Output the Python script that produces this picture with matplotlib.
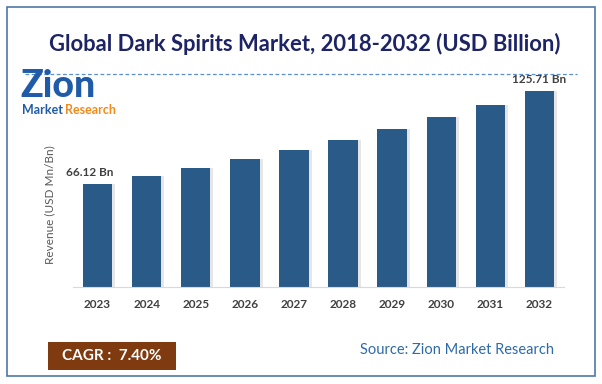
import matplotlib.pyplot as plt
from matplotlib.patches import Rectangle
from matplotlib.lines import Line2D

# Data
years = ["2023", "2024", "2025", "2026", "2027", "2028", "2029", "2030", "2031", "2032"]
revenue = [66.12, 71.0, 76.3, 81.9, 88.0, 94.5, 101.5, 109.0, 117.0, 125.71]
first_label = "66.12 Bn"
last_label = "125.71 Bn"
cagr_text = "CAGR :  7.40%"
source_text = "Source: Zion Market Research"
title_text = "Global Dark Spirits Market, 2018-2032 (USD Billion)"

bar_color = "#2a5a88"
font = "Lato"

fig = plt.figure(figsize=(6.02, 3.84), dpi=100)
W, H = 602, 384

def fx(px):
    return px / W

def fy(py):
    return 1 - py / H

# outer border
fig.patches.append(Rectangle((fx(7), fy(376)), fx(588), (376 - 7) / H, transform=fig.transFigure,
                             fill=False, edgecolor="#4f77a5", linewidth=1.2))

# title and dashed rule
fig.text(fx(305), fy(44), title_text, ha="center", va="center", fontsize=15.8,
         fontweight="bold", color="#1d2466", family=font)
fig.lines.append(Line2D([fx(25), fx(577)], [fy(74), fy(74)], transform=fig.transFigure,
                        color="#5b8fd0", linewidth=0.9, linestyle=(0, (3, 2))))

# logo (text approximation)
fig.text(fx(20), fy(103), "Zion", ha="left", va="bottom", fontsize=27, fontweight="black",
         color="#1f5ba8", family=font)
fig.text(fx(22), fy(110), "Market", ha="left", va="center", fontsize=9, fontweight="bold",
         color="#1f5ba8", family=font)
fig.text(fx(65), fy(110), "Research", ha="left", va="center", fontsize=9, fontweight="bold",
         color="#f08a1c", family=font)

# bars
ax = fig.add_axes([fx(73), fy(287), fx(564 - 73), (287 - 69) / H])
x = list(range(len(years)))
shadow = [i + 0.06 for i in x]
ax.bar(shadow, revenue, width=0.6, color="#c8c8c8", alpha=0.45, zorder=1)
ax.bar(x, revenue, width=0.6, color=bar_color, zorder=2)
ax.set_xlim(-0.5, len(years) - 0.5)
ax.set_ylim(0, 140)
ax.set_xticks(x)
ax.set_xticklabels(years, fontsize=8.5, fontweight="bold", color="#404040", family=font)
ax.tick_params(axis="x", length=0, pad=9)
ax.set_yticks([])
for s in ["top", "right", "left"]:
    ax.spines[s].set_visible(False)
ax.spines["bottom"].set_color("#d9d9d9")
ax.set_ylabel("Revenue (USD Mn/Bn)", fontsize=8.5, color="#595959", family=font)
ax.yaxis.set_label_coords(-0.037, 0.376)

ax.text(x[0] - 0.15, revenue[0] + 4, first_label, ha="center", va="bottom", fontsize=8.5,
        fontweight="bold", color="#404040", family=font)
ax.text(x[-1], revenue[-1] + 4, last_label, ha="center", va="bottom", fontsize=8.5,
        fontweight="bold", color="#404040", family=font)

# CAGR box and source
fig.patches.append(Rectangle((fx(48), fy(370)), fx(128), (370 - 342) / H, transform=fig.transFigure,
                             facecolor="#7f3b0f", edgecolor="none"))
fig.text(fx(112), fy(356), cagr_text, ha="center", va="center", fontsize=11, fontweight="bold",
         color="white", family=font)
fig.text(fx(554), fy(350), source_text, ha="right", va="center", fontsize=10.5,
         color="#2e6aa8", family=font)

fig.savefig("out.png", dpi=100)
